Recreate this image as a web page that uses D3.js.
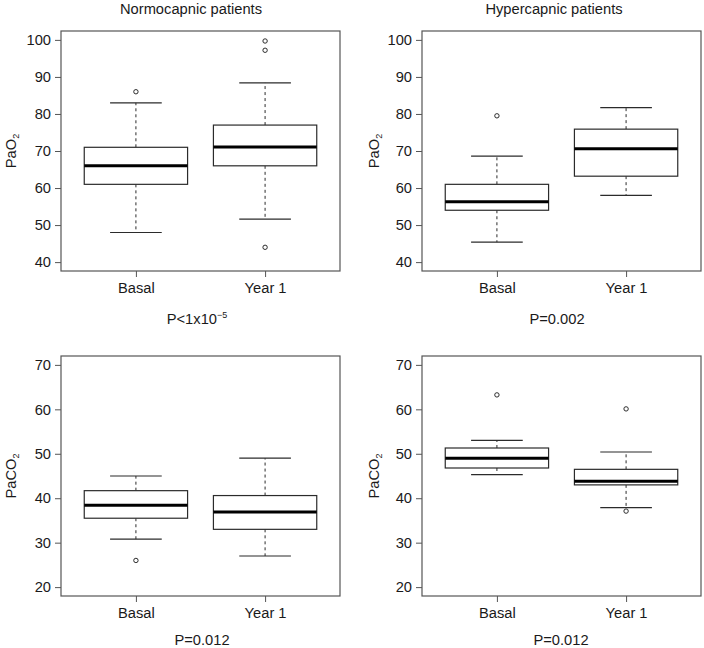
<!DOCTYPE html>
<html><head><meta charset="utf-8">
<script src="https://cdn.jsdelivr.net/npm/d3@7"></script>
<style>body{margin:0;background:#fff}svg{display:block}text{font-family:"Liberation Sans",Arial,Helvetica,sans-serif;fill:#1a1a1a}</style>
</head><body>
<script>
const categories = ["Basal", "Year 1"];
const titles = ["Normocapnic patients", "Hypercapnic patients"];
const pLabels = ["P<1x10", "P=0.002", "P=0.012", "P=0.012"];
const pao2Ticks = [40, 50, 60, 70, 80, 90, 100];
const paco2Ticks = [20, 30, 40, 50, 60, 70];
// [lowWhisker, q1, median, q3, highWhisker]
const normoPaO2 = [[48, 61, 66, 71, 83], [51.6, 66, 71.1, 77, 88.4]];
const normoPaO2Out = [[86], [44, 97.2, 99.7]];
const hyperPaO2 = [[45.4, 54, 56.3, 61, 68.6], [58, 63.2, 70.6, 75.9, 81.7]];
const hyperPaO2Out = [[79.5], []];
const normoPaCO2 = [[30.8, 35.5, 38.4, 41.7, 45], [27, 33, 36.9, 40.6, 49]];
const normoPaCO2Out = [[26], []];
const hyperPaCO2 = [[45.3, 46.8, 49, 51.3, 53], [37.9, 43, 43.8, 46.5, 50.4]];
const hyperPaCO2Out = [[63.25], [37.1, 60.1]];

const W = 704, H = 648;
const svg = d3.select("body").append("svg").attr("width", W).attr("height", H);

const panels = [
  {x0: 61, x1: 340, y0: 31, y1: 271, stats: normoPaO2, out: normoPaO2Out, ticks: pao2Ticks, lim: [40, 100], lab: "PaO", labX: 11, title: titles[0], titleX: 191, p: pLabels[0], pX: 197, pY: 324, sup: true},
  {x0: 422, x1: 701, y0: 31, y1: 271, stats: hyperPaO2, out: hyperPaO2Out, ticks: pao2Ticks, lim: [40, 100], lab: "PaO", labX: 374, title: titles[1], titleX: 554, p: pLabels[1], pX: 557, pY: 324},
  {x0: 61, x1: 340, y0: 356, y1: 596, stats: normoPaCO2, out: normoPaCO2Out, ticks: paco2Ticks, lim: [20, 70], lab: "PaCO", labX: 11, p: pLabels[2], pX: 202, pY: 645},
  {x0: 422, x1: 701, y0: 356, y1: 596, stats: hyperPaCO2, out: hyperPaCO2Out, ticks: paco2Ticks, lim: [20, 70], lab: "PaCO", labX: 374, p: pLabels[3], pX: 561, pY: 645}
];

const fs = 14.7;
const lineCol = "#2b2b2b";

panels.forEach(P => {
  const g = svg.append("g");
  const pad = (P.lim[1] - P.lim[0]) * 0.04;
  const y = d3.scaleLinear().domain([P.lim[0] - pad, P.lim[1] + pad]).range([P.y1, P.y0]);
  const x = d3.scaleLinear().domain([0.42, 2.58]).range([P.x0, P.x1]);

  g.append("rect").attr("x", P.x0).attr("y", P.y0).attr("width", P.x1 - P.x0).attr("height", P.y1 - P.y0)
    .attr("fill", "none").attr("stroke", "#555").attr("stroke-width", 1.2);

  const ya = d3.axisLeft(y).tickValues(P.ticks).tickSize(6).tickPadding(4).tickFormat(d3.format("d"));
  const yg = g.append("g").attr("transform", `translate(${P.x0},0)`).call(ya);
  yg.select(".domain").remove();
  yg.selectAll(".tick line").attr("stroke", "#555");
  yg.selectAll(".tick text").attr("font-size", fs).style("font-family", '"Liberation Sans",Arial,sans-serif').attr("fill", "#1a1a1a");

  const xa = d3.axisBottom(x).tickValues([1, 2]).tickSize(6).tickPadding(6).tickFormat((d, i) => categories[i]);
  const xg = g.append("g").attr("transform", `translate(0,${P.y1})`).call(xa);
  xg.select(".domain").remove();
  xg.selectAll(".tick line").attr("stroke", "#555");
  xg.selectAll(".tick text").attr("font-size", fs).style("font-family", '"Liberation Sans",Arial,sans-serif').attr("fill", "#1a1a1a");

  const cy = (P.y0 + P.y1) / 2;
  const lt = g.append("text").attr("transform", `translate(${P.labX + 5},${cy}) rotate(-90)`)
    .attr("text-anchor", "middle").attr("font-size", fs);
  lt.append("tspan").text(P.lab);
  lt.append("tspan").text("2").attr("font-size", 9).attr("dy", 3);

  P.stats.forEach((s, i) => {
    const c = i + 1;
    const bg = g.append("g");
    bg.append("line").attr("x1", x(c)).attr("x2", x(c)).attr("y1", y(s[3])).attr("y2", y(s[4]))
      .attr("stroke", lineCol).attr("stroke-dasharray", "3,3");
    bg.append("line").attr("x1", x(c)).attr("x2", x(c)).attr("y1", y(s[1])).attr("y2", y(s[0]))
      .attr("stroke", lineCol).attr("stroke-dasharray", "3,3");
    [s[0], s[4]].forEach(v => {
      bg.append("line").attr("x1", x(c - 0.2)).attr("x2", x(c + 0.2)).attr("y1", y(v)).attr("y2", y(v))
        .attr("stroke", lineCol).attr("stroke-width", 1.2);
    });
    bg.append("rect").attr("x", x(c - 0.4)).attr("width", x(c + 0.4) - x(c - 0.4))
      .attr("y", y(s[3])).attr("height", y(s[1]) - y(s[3]))
      .attr("fill", "#fff").attr("stroke", lineCol).attr("stroke-width", 1.2);
    bg.append("line").attr("x1", x(c - 0.4)).attr("x2", x(c + 0.4)).attr("y1", y(s[2])).attr("y2", y(s[2]))
      .attr("stroke", "#000").attr("stroke-width", 3);
    P.out[i].forEach(v => {
      bg.append("circle").attr("cx", x(c)).attr("cy", y(v)).attr("r", 2.2)
        .attr("fill", "none").attr("stroke", lineCol).attr("stroke-width", 1);
    });
  });

  if (P.title) {
    g.append("text").attr("x", P.titleX).attr("y", 14).attr("text-anchor", "middle").attr("font-size", fs).text(P.title);
  }
  const pt = g.append("text").attr("x", P.pX).attr("y", P.pY).attr("text-anchor", "middle").attr("font-size", fs);
  pt.append("tspan").text(P.p);
  if (P.sup) pt.append("tspan").text("\u22125").attr("font-size", 9).attr("dy", -6);
});
</script>
</body></html>
